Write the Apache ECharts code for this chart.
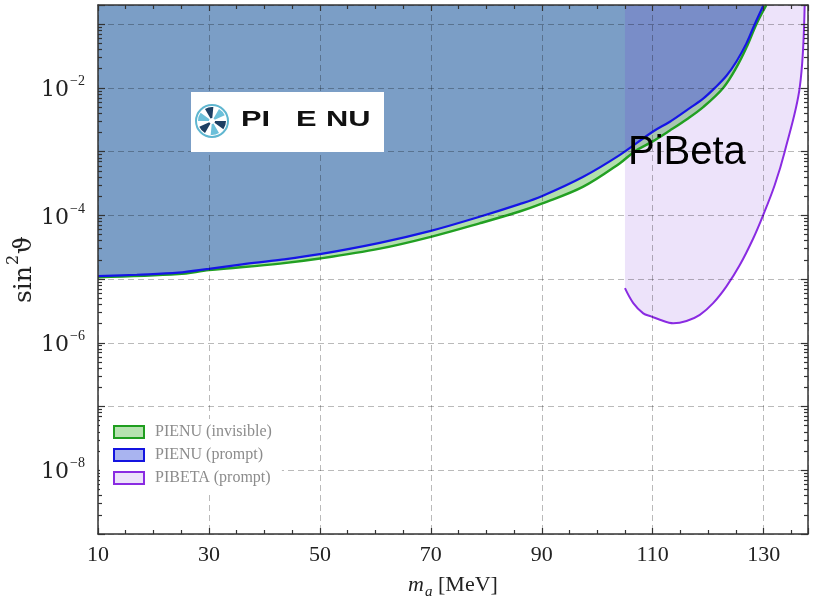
<!DOCTYPE html>
<html>
<head>
<meta charset="utf-8">
<script src="https://cdn.jsdelivr.net/npm/echarts@6/dist/echarts.min.js"></script>
<style>
  html, body { margin: 0; padding: 0; background: #fff; }
  #chart { width: 815px; height: 605px; }
</style>
</head>
<body>
<div id="chart"></div>
<script>
// PIENU prompt limit (blue)
const promptMass = [10, 17, 24.5, 30, 36, 42.8, 50, 60.8, 70, 78.8, 86, 90, 97.4, 104.1, 110, 113.1, 116.1, 119.1, 121.2, 123.3, 125.1, 126.9, 128.4, 130];
const promptLimit = [1.11e-5, 1.17e-5, 1.26e-5, 1.45e-5, 1.7e-5, 2.0e-5, 2.46e-5, 3.7e-5, 5.7e-5, 9.5e-5, 1.5e-4, 2.0e-4, 4.0e-4, 8.9e-4, 2.05e-3, 2.95e-3, 4.45e-3, 6.8e-3, 1e-2, 1.55e-2, 2.6e-2, 5.0e-2, 0.1, 0.2];

// PIENU invisible limit (green)
const invisibleMass = [10, 24.5, 30, 42.8, 50, 60.8, 70, 78.8, 86, 90, 97.4, 104.1, 106.7, 110, 113.1, 116.1, 119.1, 122.7, 125.1, 126.9, 128.7, 130.5];
const invisibleLimit = [1.07e-5, 1.2e-5, 1.38e-5, 1.75e-5, 2.1e-5, 3.0e-5, 4.6e-5, 7.5e-5, 1.15e-4, 1.53e-4, 2.8e-4, 6.6e-4, 1.0e-3, 1.45e-3, 2.15e-3, 3.2e-3, 5.0e-3, 1e-2, 2.1e-2, 4.3e-2, 0.1, 0.2];

// PIBETA prompt limit (purple)
const pibetaMass = [105, 106.5, 108.3, 109.7, 111.3, 113.7, 116.1, 118.5, 120.9, 123.3, 125.7, 128.1, 129.9, 132, 133.8, 136.5, 137.4];
const pibetaLimit = [7.2e-6, 4.2e-6, 2.9e-6, 2.6e-6, 2.3e-6, 2.03e-6, 2.2e-6, 2.75e-6, 4.2e-6, 7.7e-6, 1.66e-5, 4.3e-5, 1.0e-4, 3.0e-4, 1.0e-3, 1.0e-2, 0.2];

const seriesNames = ['PIENU (invisible)', 'PIENU (prompt)', 'PIBETA (prompt)'];
const yLabelExponents = [-2, -4, -6, -8];

const X_MIN = 10, X_MAX = 138, Y_MIN = 1e-9, Y_MAX = 0.2;
const serif = 'Liberation Serif';
const ink = '#333';

const zip = (xs, ys) => xs.map((x, i) => [x, ys[i]]);

// log minor ticks at 2..9 x 10^n
const minorY = [];
for (let e = -9; e <= -1; e++) {
  for (let k = 2; k <= 9; k++) {
    const v = k * Math.pow(10, e);
    if (v < Y_MAX) minorY.push(v);
  }
}

const xAxisBase = (position) => ({
  type: 'value',
  position: position,
  min: X_MIN,
  max: X_MAX,
  interval: 20,
  z: 5,
  axisLine: { show: true, onZero: false, lineStyle: { color: ink, width: 1.5 } },
  axisTick: { show: true, inside: true, length: 6, lineStyle: { color: ink, width: 1.2 } },
  minorTick: { show: true, splitNumber: 4, length: 4, lineStyle: { color: ink, width: 1.2 } },
  axisLabel: { show: false },
  splitLine: { show: false }
});

const yAxisBase = (position, minor) => ({
  type: 'log',
  logBase: 10,
  position: position,
  min: Y_MIN,
  max: Y_MAX,
  interval: 1,
  z: 5,
  axisLine: { show: !minor, onZero: false, lineStyle: { color: ink, width: 1.5 } },
  axisTick: minor
    ? { show: true, inside: true, length: 4, customValues: minorY, lineStyle: { color: ink, width: 1.2 } }
    : { show: true, inside: true, length: 7, lineStyle: { color: ink, width: 1.2 } },
  axisLabel: { show: false },
  splitLine: { show: false }
});

const gridLine = { show: true, lineStyle: { color: 'rgba(0,0,0,0.27)', width: 1, type: [6, 4] } };

const xMain = Object.assign(xAxisBase('bottom'), {
  axisLabel: {
    show: true, margin: 10, fontFamily: serif, fontSize: 22, color: '#222',
    formatter: (v) => ((v - 10) % 20 === 0 ? String(v) : '')
  },
  splitLine: gridLine,
  name: '{i|m}{s|a}{r| [MeV]}',
  nameLocation: 'middle',
  nameGap: 40,
  nameTextStyle: {
    rich: {
      i: { fontFamily: serif, fontStyle: 'italic', fontSize: 22, color: '#222', verticalAlign: 'top' },
      s: { fontFamily: serif, fontStyle: 'italic', fontSize: 15, color: '#222', verticalAlign: 'top', padding: [11, 0, 0, 1] },
      r: { fontFamily: serif, fontSize: 22, color: '#222', verticalAlign: 'top' }
    }
  }
});

const yMain = Object.assign(yAxisBase('left', false), {
  axisLabel: {
    show: true, margin: 13,
    formatter: (v) => {
      const e = Math.round(Math.log10(v));
      if (Math.abs(Math.log10(v) - e) > 1e-6 || yLabelExponents.indexOf(e) < 0) return '';
      return '{b|10}{e|\u2212' + (-e) + '}';
    },
    rich: {
      b: { fontFamily: 'DejaVu Serif', fontSize: 22, color: '#222', verticalAlign: 'top', padding: [5, 0, 0, 0] },
      e: { fontFamily: serif, fontSize: 14, color: '#222', verticalAlign: 'top', padding: [0, 0, 0, 1] }
    }
  },
  splitLine: gridLine,
  name: '{b|sin}{e|2}{b|\u03d1}',
  nameLocation: 'middle',
  nameGap: 61,
  nameMoveOverlap: false,
  nameTextStyle: {
    rich: {
      b: { fontFamily: 'DejaVu Serif', fontSize: 25, color: '#222', verticalAlign: 'top', padding: [6, 0, 0, 0] },
      e: { fontFamily: 'DejaVu Serif', fontSize: 16, color: '#222', verticalAlign: 'top', padding: [0, 1, 0, 1] }
    }
  }
});

const areaSeries = (name, xs, ys, color) => ({
  name: name,
  type: 'line',
  data: zip(xs, ys),
  smooth: 0.35,
  showSymbol: false,
  silent: true,
  lineStyle: { width: 0 },
  areaStyle: { color: color, opacity: 1, origin: 'end' },
  z: 2
});

const lineSeries = (name, xs, ys, color, width) => ({
  name: name,
  type: 'line',
  data: zip(xs, ys),
  smooth: 0.35,
  showSymbol: false,
  silent: true,
  lineStyle: { color: color, width: width },
  z: 3
});

// pinwheel logo
const blades = [];
for (let k = 0; k < 6; k++) {
  blades.push({
    type: 'sector', z: 22,
    shape: { cx: 0, cy: 0, r0: 3, r: 14, startAngle: k * Math.PI / 3, endAngle: k * Math.PI / 3 + 0.62 },
    style: { fill: k % 2 ? '#6cc0da' : '#1d3f63' }
  });
}
blades.push({ type: 'circle', z: 22, shape: { cx: 0, cy: 0, r: 16 }, style: { fill: 'none', stroke: '#5fb6d0', lineWidth: 2 } });

const logoText = (text, x) => ({
  type: 'text', x: x, y: 120, scaleX: 1.4, z: 22,
  style: {
    text: text, font: 'bold 22px "Liberation Sans"', fill: '#111', verticalAlign: 'middle',
    shadowBlur: 4, shadowColor: 'rgba(0,0,0,0.45)', shadowOffsetX: 3, shadowOffsetY: 4
  }
});

const chart = echarts.init(document.getElementById('chart'));
chart.setOption({
  backgroundColor: '#fff',
  animation: false,
  grid: { left: 98, right: 7, top: 5, bottom: 71, containLabel: false, outerBoundsMode: 'none' },
  xAxis: [xMain, xAxisBase('top')],
  yAxis: [yMain, yAxisBase('left', true), yAxisBase('right', false), yAxisBase('right', true)],
  legend: {
    orient: 'vertical',
    left: 100,
    top: 419,
    icon: 'rect',
    itemWidth: 30,
    itemHeight: 12,
    itemGap: 7,
    padding: [5, 10, 5, 13],
    backgroundColor: '#fff',
    z: 10,
    textStyle: { fontFamily: serif, fontSize: 16, color: '#8c8c8c', padding: [0, 0, 0, 6] },
    data: [
      { name: seriesNames[0], itemStyle: { color: '#b6e3b0', borderColor: '#1f9e1f', borderWidth: 2 } },
      { name: seriesNames[1], itemStyle: { color: '#a9b4f0', borderColor: '#1414e0', borderWidth: 2 } },
      { name: seriesNames[2], itemStyle: { color: '#ece2fa', borderColor: '#8a2be2', borderWidth: 2 } }
    ]
  },
  series: [
    areaSeries(seriesNames[0], invisibleMass, invisibleLimit, '#b2dfac'),
    areaSeries(seriesNames[1], promptMass, promptLimit, '#7b9ec6'),
    areaSeries(seriesNames[2], pibetaMass, pibetaLimit, 'rgba(105,22,213,0.12)'),
    lineSeries('invisible line', invisibleMass, invisibleLimit, '#22a022', 2.4),
    lineSeries('prompt line', promptMass, promptLimit, '#1515e6', 2.2),
    lineSeries('pibeta line', pibetaMass, pibetaLimit, '#8a2be2', 2)
  ],
  graphic: [
    { type: 'rect', shape: { x: 191, y: 92, width: 193, height: 60 }, style: { fill: '#fff' }, z: 20 },
    { type: 'group', x: 212, y: 121, z: 21, children: blades },
    logoText('PI', 241),
    logoText('E', 296),
    logoText('NU', 326),
    { type: 'text', x: 628, y: 153, z: 22, style: { text: 'PiBeta', font: '40px "Liberation Sans"', fill: '#000', verticalAlign: 'middle' } }
  ]
});
</script>
</body>
</html>
